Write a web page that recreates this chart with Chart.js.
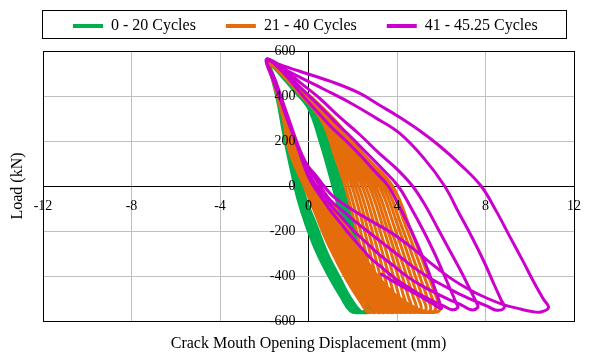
<!DOCTYPE html>
<html>
<head>
<meta charset="utf-8">
<title>Load vs CMOD</title>
<script src="https://cdn.jsdelivr.net/npm/chart.js@4.4.1/dist/chart.umd.min.js"></script>
<style>
  html, body { margin: 0; padding: 0; background: #fff; }
  #wrap { width: 600px; height: 360px; }
</style>
</head>
<body>
<div id="wrap"><canvas id="chart" width="600" height="360"></canvas></div>
<script>
/* Load vs crack mouth opening displacement, three groups of cycles */
var seriesNames = ['0 - 20 Cycles', '21 - 40 Cycles', '41 - 45.25 Cycles'];
var xTicks = [-12, -8, -4, 0, 4, 8, 12];
var yTicks = [-600, -400, -200, 0, 200, 400, 600];

// each loop: tip -> upper branch -> bottom corner -> return branch (x mm, load kN)
var greenLoops = [
    [[-1.9,562],[-1.30,498],[-0.60,418],[0.00,345],[0.55,190],[1.10,0],[1.60,-190],[2.10,-370],[2.45,-490],[2.60,-548],[2.30,-562],[1.90,-556],[1.45,-490],[1.00,-415],[0.40,-300],[-0.10,-175],[-0.50,-50],[-0.80,80],[-1.10,220],[-1.40,380],[-1.70,500]],
    [[-1.9,562],[-1.29,499],[-0.57,419],[0.04,345],[0.60,190],[1.16,0],[1.66,-190],[2.16,-370],[2.50,-490],[2.65,-548],[2.36,-562],[1.96,-556],[1.51,-490],[1.06,-415],[0.46,-300],[-0.04,-175],[-0.45,-50],[-0.76,80],[-1.07,220],[-1.38,380],[-1.69,500]],
    [[-1.9,562],[-1.27,501],[-0.55,420],[0.09,345],[0.65,190],[1.23,0],[1.73,-190],[2.23,-370],[2.56,-490],[2.70,-548],[2.41,-562],[2.03,-556],[1.56,-490],[1.13,-415],[0.53,-300],[0.03,-175],[-0.40,-50],[-0.71,80],[-1.04,220],[-1.36,380],[-1.68,500]],
    [[-1.9,562],[-1.26,502],[-0.52,421],[0.13,345],[0.70,190],[1.29,0],[1.79,-190],[2.29,-370],[2.61,-490],[2.75,-548],[2.47,-562],[2.09,-556],[1.62,-490],[1.19,-415],[0.59,-300],[0.09,-175],[-0.35,-50],[-0.67,80],[-1.01,220],[-1.34,380],[-1.67,500]],
    [[-1.9,562],[-1.24,504],[-0.50,423],[0.17,345],[0.75,190],[1.36,0],[1.86,-190],[2.36,-370],[2.67,-490],[2.80,-548],[2.53,-562],[2.16,-556],[1.68,-490],[1.26,-415],[0.66,-300],[0.16,-175],[-0.30,-50],[-0.63,80],[-0.99,220],[-1.31,380],[-1.65,500]],
    [[-1.9,562],[-1.23,505],[-0.47,424],[0.21,345],[0.80,190],[1.42,0],[1.92,-190],[2.42,-370],[2.72,-490],[2.85,-548],[2.59,-562],[2.22,-556],[1.74,-490],[1.32,-415],[0.72,-300],[0.22,-175],[-0.25,-50],[-0.59,80],[-0.96,220],[-1.29,380],[-1.64,500]],
    [[-1.9,562],[-1.21,507],[-0.45,425],[0.26,345],[0.85,190],[1.49,0],[1.99,-190],[2.49,-370],[2.78,-490],[2.90,-548],[2.64,-562],[2.29,-556],[1.79,-490],[1.39,-415],[0.79,-300],[0.29,-175],[-0.20,-50],[-0.54,80],[-0.93,220],[-1.27,380],[-1.63,500]],
    [[-1.9,562],[-1.20,508],[-0.42,426],[0.30,345],[0.90,190],[1.55,0],[2.05,-190],[2.55,-370],[2.83,-490],[2.95,-548],[2.70,-562],[2.35,-556],[1.85,-490],[1.45,-415],[0.85,-300],[0.35,-175],[-0.15,-50],[-0.50,80],[-0.90,220],[-1.25,380],[-1.62,500],[-1.9,562]]
];

var orangeLoops = [
    [[-1.9,562],[-1.3,505],[-0.50,420],[0.60,290],[1.2,130],[1.65,0],[2.10,-170],[2.50,-340],[2.80,-480],[2.95,-548],[2.70,-562],[2.35,-515],[1.80,-430],[1.25,-330],[0.75,-230],[0.30,-120],[0.05,-60],[-0.20,0],[-0.85,150],[-1.15,300],[-1.55,450]],
    [[-1.9,562],[-1.3,506],[-0.49,422],[0.64,291],[1.3,130],[1.80,0],[2.27,-171],[2.70,-342],[3.01,-481],[3.16,-548],[2.90,-562],[2.53,-517],[1.96,-434],[1.39,-336],[0.87,-236],[0.41,-126],[0.13,-63],[-0.16,0],[-0.82,149],[-1.13,299],[-1.54,449]],
    [[-1.9,562],[-1.3,507],[-0.49,423],[0.67,292],[1.4,130],[1.96,0],[2.46,-173],[2.90,-344],[3.23,-483],[3.38,-548],[3.12,-562],[2.71,-519],[2.11,-439],[1.53,-341],[1.00,-241],[0.53,-133],[0.21,-66],[-0.12,0],[-0.79,147],[-1.11,297],[-1.53,447]],
    [[-1.9,562],[-1.3,509],[-0.48,425],[0.71,293],[1.5,130],[2.11,0],[2.63,-174],[3.10,-346],[3.44,-484],[3.59,-548],[3.32,-562],[2.90,-521],[2.27,-443],[1.67,-347],[1.12,-247],[0.64,-139],[0.30,-69],[-0.08,0],[-0.76,146],[-1.10,296],[-1.52,446]],
    [[-1.9,562],[-1.3,510],[-0.47,426],[0.74,293],[1.6,130],[2.26,0],[2.81,-176],[3.30,-349],[3.66,-486],[3.81,-548],[3.53,-562],[3.08,-524],[2.43,-447],[1.81,-353],[1.25,-253],[0.76,-146],[0.38,-71],[-0.05,0],[-0.74,144],[-1.08,294],[-1.51,444]],
    [[-1.9,562],[-1.3,511],[-0.46,428],[0.78,294],[1.7,130],[2.42,0],[2.99,-177],[3.50,-351],[3.87,-487],[4.02,-548],[3.73,-562],[3.26,-526],[2.59,-451],[1.95,-359],[1.37,-259],[0.87,-152],[0.46,-74],[-0.01,0],[-0.71,143],[-1.06,293],[-1.50,443]],
    [[-1.9,562],[-1.3,512],[-0.46,429],[0.81,295],[1.8,130],[2.57,0],[3.17,-179],[3.70,-353],[4.09,-489],[4.24,-548],[3.95,-562],[3.44,-528],[2.74,-456],[2.09,-364],[1.50,-264],[0.99,-159],[0.54,-77],[0.03,0],[-0.68,141],[-1.04,291],[-1.49,441]],
    [[-1.9,562],[-1.3,514],[-0.45,431],[0.85,296],[1.9,130],[2.73,0],[3.36,-180],[3.91,-355],[4.30,-490],[4.45,-548],[4.15,-562],[3.63,-530],[2.90,-460],[2.23,-370],[1.63,-270],[1.10,-165],[0.63,-80],[0.07,0],[-0.65,140],[-1.03,290],[-1.48,440]],
    [[-1.9,562],[-1.3,515],[-0.44,433],[0.89,297],[2.0,130],[2.88,0],[3.53,-181],[4.10,-357],[4.51,-491],[4.66,-548],[4.35,-562],[3.81,-532],[3.06,-464],[2.36,-376],[1.75,-276],[1.21,-171],[0.71,-83],[0.11,0],[-0.62,139],[-1.01,289],[-1.46,439]],
    [[-1.9,562],[-1.3,516],[-0.44,434],[0.92,298],[2.1,130],[3.03,0],[3.70,-183],[4.30,-359],[4.73,-493],[4.88,-548],[4.57,-562],[3.99,-534],[3.21,-469],[2.50,-381],[1.88,-281],[1.33,-178],[0.79,-86],[0.15,0],[-0.59,137],[-0.99,287],[-1.45,437]],
    [[-1.9,562],[-1.3,517],[-0.43,436],[0.96,299],[2.2,130],[3.19,0],[3.89,-184],[4.50,-361],[4.94,-494],[5.09,-548],[4.77,-562],[4.17,-536],[3.37,-473],[2.64,-387],[2.00,-287],[1.44,-184],[0.87,-89],[0.19,0],[-0.56,136],[-0.97,286],[-1.44,436]],
    [[-1.9,562],[-1.3,518],[-0.42,437],[0.99,299],[2.3,130],[3.34,0],[4.07,-186],[4.70,-364],[5.16,-496],[5.31,-548],[4.98,-562],[4.35,-539],[3.53,-477],[2.78,-393],[2.13,-293],[1.56,-191],[0.95,-91],[0.22,0],[-0.54,134],[-0.95,284],[-1.43,434]],
    [[-1.9,562],[-1.3,520],[-0.41,439],[1.03,300],[2.4,130],[3.49,0],[4.24,-187],[4.90,-366],[5.37,-497],[5.52,-548],[5.18,-562],[4.54,-541],[3.69,-481],[2.92,-399],[2.25,-299],[1.67,-197],[1.04,-94],[0.26,0],[-0.51,133],[-0.94,283],[-1.42,433]],
    [[-1.9,562],[-1.3,521],[-0.41,440],[1.06,301],[2.5,130],[3.65,0],[4.43,-189],[5.10,-368],[5.59,-499],[5.74,-548],[5.40,-562],[4.72,-543],[3.84,-486],[3.06,-404],[2.38,-304],[1.79,-204],[1.12,-97],[0.30,0],[-0.48,131],[-0.92,281],[-1.41,431]],
    [[-1.9,562],[-1.3,522],[-0.40,442],[1.10,302],[2.6,130],[3.80,0],[4.60,-190],[5.30,-370],[5.80,-500],[5.95,-548],[5.60,-562],[4.90,-545],[4.00,-490],[3.20,-410],[2.50,-310],[1.90,-210],[1.20,-100],[0.34,0],[-0.45,130],[-0.90,280],[-1.40,430],[-1.9,562]]
];

// first piece starts low on the plot, the rest run tip -> lower branch -> corner -> upper branch
var magentaLoops = [
    [[3.3,-392],[3.85,-425],[4.4,-455],[4.85,-480],[5.3,-505],[5.65,-525],[6.0,-545],[5.95,-525],[5.8,-480],[5.5,-400],[5.1,-300],[4.65,-200],[4.15,-100],[3.6,0],[3.0,65],[2.4,130],[1.7,200],[1.0,265],[0.3,340],[-0.4,418],[-1.2,510]],
    [[-1.9,562],[-1.6,470],[-1.3,390],[-1.05,320],[-0.75,240],[-0.45,160],[-0.2,90],[0.05,30],[0.5,-40],[1.0,-110],[1.45,-165],[1.9,-220],[2.35,-270],[2.8,-320],[3.35,-365],[3.9,-410],[4.45,-447],[5.0,-480],[5.6,-510],[6.1,-533],[6.5,-550],[6.75,-540],[6.7,-525],[6.5,-480],[6.15,-400],[5.7,-300],[5.2,-200],[4.65,-100],[4.05,0],[3.3,80],[2.6,150],[1.9,220],[1.2,285],[0.4,365],[-0.4,440],[-1.2,520]],
    [[-1.9,562],[-1.58,470],[-1.28,385],[-1.0,315],[-0.7,230],[-0.4,150],[-0.12,85],[0.15,30],[0.55,-25],[1.0,-85],[1.5,-140],[2.0,-195],[2.6,-250],[3.2,-305],[3.85,-355],[4.5,-405],[5.15,-445],[5.8,-478],[6.4,-507],[6.9,-528],[7.35,-550],[7.65,-540],[7.6,-520],[7.35,-470],[6.95,-390],[6.4,-290],[5.85,-190],[5.3,-90],[4.7,0],[4.0,75],[3.2,145],[2.3,230],[1.4,307],[0.5,390],[-0.4,462],[-1.2,530]],
    [[-1.9,562],[-1.55,470],[-1.25,385],[-0.95,310],[-0.65,225],[-0.35,145],[-0.05,85],[0.25,40],[0.6,-10],[1.0,-65],[1.6,-115],[2.2,-165],[2.85,-215],[3.5,-265],[4.15,-315],[4.8,-365],[5.5,-410],[6.2,-448],[6.85,-482],[7.5,-510],[8.1,-535],[8.5,-552],[8.85,-540],[8.7,-505],[8.4,-440],[7.95,-340],[7.4,-230],[6.8,-120],[6.15,0],[5.2,125],[4.1,236],[3.0,305],[1.9,369],[0.7,430],[-0.4,484],[-1.2,525]],
    [[-1.9,562],[-1.5,470],[-1.2,385],[-0.9,300],[-0.6,215],[-0.3,140],[0.0,85],[0.35,45],[0.7,0],[1.1,-45],[1.7,-88],[2.3,-125],[3.0,-165],[3.7,-205],[4.35,-250],[5.0,-300],[5.75,-360],[6.5,-415],[7.3,-462],[8.1,-500],[8.8,-527],[9.5,-545],[10.1,-558],[10.5,-560],[10.85,-540],[10.6,-500],[10.2,-430],[9.7,-335],[9.1,-225],[8.45,-105],[7.8,0],[6.9,92],[5.9,180],[5.0,248],[4.1,307],[3.2,360],[2.3,413],[1.0,465],[-0.4,510],[-1.2,536],[-1.9,562]]
];

var seriesColors = ['#00B050', '#E46C0A', '#CC00CC'];
var serif = "'Liberation Serif', 'Times New Roman', serif";

function toPoints(loops) {
    var pts = [];
    loops.forEach(function(loop) {
        loop.forEach(function(p) { pts.push({ x: p[0], y: p[1] }); });
    });
    return pts;
}

// outer frame and the zero line in black, the rest light grey
function gridColor(lo, hi) {
    return function(ctx) {
        var v = ctx.tick.value;
        if (v === lo || v === hi || v === 0) return '#000000';
        return '#BFBFBF';
    };
}

var legendFrame = {
    id: 'legendFrame',
    afterDraw: function(chart) {
        var c = chart.ctx;
        c.save();
        c.strokeStyle = '#000';
        c.lineWidth = 1;
        c.strokeRect(42.5, 10.5, 524, 28);
        c.restore();
    }
};

Chart.defaults.font.family = serif;
Chart.defaults.color = '#000';

new Chart(document.getElementById('chart').getContext('2d'), {
    type: 'scatter',
    data: {
        datasets: [
            { label: seriesNames[0], data: toPoints(greenLoops), borderColor: seriesColors[0], backgroundColor: seriesColors[0], borderWidth: 3, order: 3 },
            { label: seriesNames[1], data: toPoints(orangeLoops), borderColor: seriesColors[1], backgroundColor: seriesColors[1], borderWidth: 3, order: 2 },
            { label: seriesNames[2], data: toPoints(magentaLoops), borderColor: seriesColors[2], backgroundColor: seriesColors[2], borderWidth: 3, order: 1 }
        ]
    },
    options: {
        responsive: false,
        animation: false,
        showLine: true,
        elements: { point: { radius: 0, hoverRadius: 0 }, line: { tension: 0.4, borderCapStyle: 'round', borderJoinStyle: 'round' } },
        layout: { padding: { top: -12, right: 26, left: 0, bottom: 0 } },
        plugins: {
            tooltip: { enabled: false },
            legend: {
                position: 'top',
                fullSize: false,
                align: 'start',
                labels: {
                    usePointStyle: true,
                    pointStyle: 'line',
                    pointStyleWidth: 30,
                    padding: 30,
                    color: '#000',
                    font: { family: serif, size: 16 },
                    generateLabels: function(chart) {
                        return chart.data.datasets.map(function(d, i) {
                            return { text: d.label, strokeStyle: d.borderColor, fillStyle: d.borderColor,
                                     lineWidth: 4, pointStyle: 'line', datasetIndex: i, hidden: false, fontColor: '#000' };
                        });
                    }
                }
            }
        },
        scales: {
            x: {
                type: 'linear', position: 'bottom', min: -12, max: 12,
                afterBuildTicks: function(s) { s.ticks = xTicks.map(function(v) { return { value: v }; }); },
                afterFit: function(s) { s.height = 39; },
                ticks: { display: false },
                grid: { color: gridColor(-12, 12), drawTicks: false },
                border: { color: '#000' },
                title: { display: true, text: 'Crack Mouth Opening Displacement (mm)', color: '#000',
                         font: { family: serif, size: 16 }, padding: { top: 0, bottom: 7 } }
            },
            y: {
                type: 'linear', position: 'left', min: -600, max: 600,
                afterBuildTicks: function(s) { s.ticks = yTicks.map(function(v) { return { value: v }; }); },
                afterFit: function(s) { s.width = 43; },
                ticks: { display: false },
                grid: { color: gridColor(-600, 600), drawTicks: false },
                border: { color: '#000' },
                title: { display: true, text: 'Load (kN)', color: '#000',
                         font: { family: serif, size: 16 }, padding: { top: 8, bottom: 0 } }
            },
            xt: {
                type: 'linear', axis: 'x', position: 'top', min: -12, max: 12,
                afterFit: function(s) { s.height = 7; },
                ticks: { display: false }, grid: { display: false }, border: { display: false }
            },
            xc: {
                type: 'linear', axis: 'x', position: { y: 0 }, min: -12, max: 12,
                afterBuildTicks: function(s) { s.ticks = xTicks.map(function(v) { return { value: v }; }); },
                grid: { display: false },
                border: { display: false },
                ticks: { z: 1, autoSkip: false, maxRotation: 0, padding: 4, color: '#000', font: { family: serif, size: 14 } }
            },
            yc: {
                // labels sit a little left of the x = 0 line
                type: 'linear', axis: 'y', position: { x: -0.59 }, min: -600, max: 600,
                afterBuildTicks: function(s) { s.ticks = yTicks.map(function(v) { return { value: v }; }); },
                grid: { display: false },
                border: { display: false },
                ticks: { z: 1, autoSkip: false, color: '#000', font: { family: serif, size: 14 } }
            }
        }
    },
    plugins: [legendFrame]
});
</script>
</body>
</html>
